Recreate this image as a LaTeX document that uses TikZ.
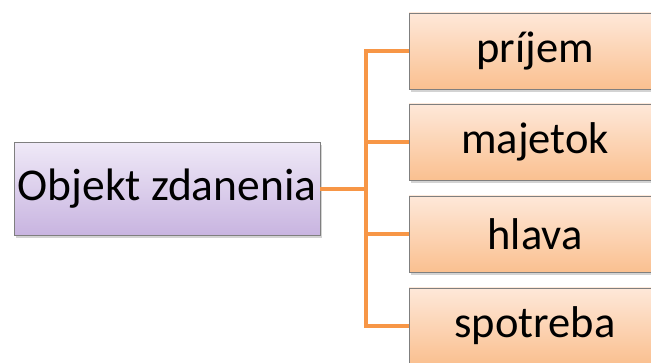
\documentclass[tikz,border=0pt]{standalone}
\usepackage{fontspec}
\setmainfont{Carlito}
\usetikzlibrary{shadows}
\definecolor{conn}{HTML}{F79646}
\definecolor{purtop}{HTML}{EFE9F7}
\definecolor{purbot}{HTML}{C8B4E0}
\definecolor{ortop}{HTML}{FEE8D9}
\definecolor{orbot}{HTML}{FAC090}
\definecolor{edge}{HTML}{7F7F7F}
\tikzset{
  rootbox/.style={draw=edge, line width=0.8pt, top color=purtop, bottom color=purbot,
    minimum width=306pt, minimum height=93pt, inner sep=0pt, font=\fontsize{45.5}{50}\selectfont,
    drop shadow={shadow xshift=2pt, shadow yshift=-3pt, opacity=0.35}},
  leafbox/.style={draw=edge, line width=0.8pt, top color=ortop, bottom color=orbot,
    minimum width=252pt, minimum height=76pt, inner sep=0pt, font=\fontsize{44.5}{50}\selectfont,
    drop shadow={shadow xshift=2pt, shadow yshift=-3pt, opacity=0.35}},
  link/.style={draw=conn, line width=4pt}
}
\begin{document}
\begin{tikzpicture}[x=1pt,y=-1pt]
\useasboundingbox (0,0) rectangle (651,363);
\clip (0,0) rectangle (651,363);
\node[rootbox] (root) at (167,189) {Objekt zdanenia};
\coordinate (bus) at (366,189);
\node[leafbox] (a) at (535,51) {príjem};
\node[leafbox] (b) at (535,142) {majetok};
\node[leafbox] (c) at (535,234) {hlava};
\node[leafbox] (d) at (535,326) {spotreba};
\coordinate (ta) at (366,51);
\coordinate (td) at (366,326);
\draw[link] (root.east) -- (bus);
\draw[link] (a.west) -- (ta) -- (td) -- (d.west);
\draw[link] (bus |- b.west) -- (b.west);
\draw[link] (bus |- c.west) -- (c.west);
\end{tikzpicture}
\end{document}
